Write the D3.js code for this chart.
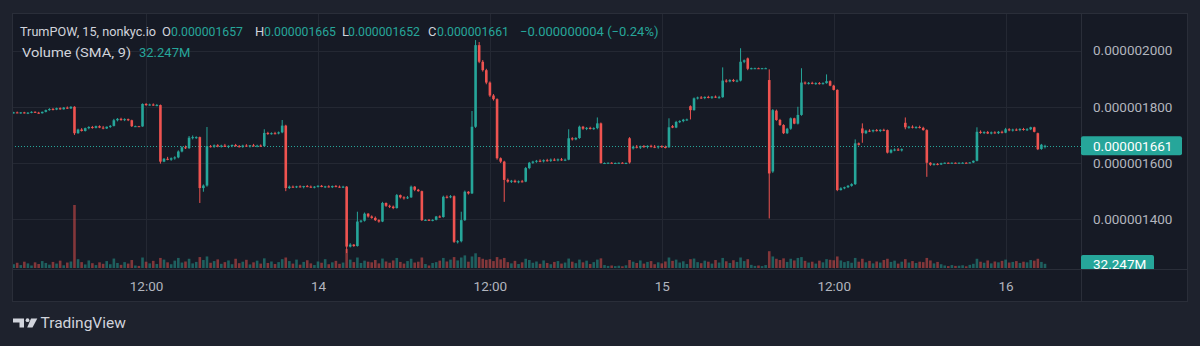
<!DOCTYPE html>
<html>
<head>
<meta charset="utf-8">
<script src="https://cdn.jsdelivr.net/npm/d3@7"></script>
<style>
  html, body { margin: 0; padding: 0; background: #1e222d; }
  svg { display: block; font-family: Roboto, "Noto Sans", sans-serif; }
</style>
</head>
<body>
<svg id="chart" width="1200" height="346"></svg>
<script>
// prices are in units of 0.000000001
const opens = [
  1779,1780,1778,1780,1777,1779,1782,1779,1777,1782,
  1788,1792,1790,1795,1791,1797,1794,1800,1706,1719,
  1714,1724,1728,1725,1731,1726,1723,1729,1732,1752,
  1757,1753,1756,1752,1731,1731,1730,1810,1806,1808,
  1805,1806,1605,1615,1612,1617,1620,1641,1656,1653,
  1690,1692,1692,1511,1520,1660,1658,1663,1659,1662,
  1657,1661,1664,1660,1657,1662,1659,1663,1660,1662,
  1660,1707,1704,1706,1705,1709,1733,1511,1516,1514,
  1517,1515,1518,1516,1513,1516,1519,1515,1517,1514,
  1518,1516,1515,1516,1303,1310,1305,1392,1395,1420,
  1410,1405,1397,1392,1458,1448,1445,1440,1486,1478,
  1475,1478,1516,1505,1500,1397,1398,1396,1398,1410,
  1408,1480,1478,1482,1320,1322,1397,1498,1492,1729,
  2019,1960,1930,1886,1840,1827,1617,1605,1540,1534,
  1537,1532,1535,1534,1582,1601,1605,1608,1606,1610,
  1608,1612,1610,1613,1611,1612,1688,1684,1689,1729,
  1722,1725,1721,1724,1741,1600,1600,1601,1600,1600,
  1601,1600,1688,1652,1658,1655,1660,1657,1661,1658,
  1656,1660,1657,1656,1731,1726,1746,1749,1754,1802,
  1788,1830,1833,1831,1835,1832,1836,1833,1834,1893,
  1890,1895,1891,1893,1960,1972,1935,1937,1937,1936,
  1937,1895,1570,1786,1753,1735,1706,1722,1759,1740,
  1771,1886,1883,1885,1882,1884,1883,1884,1891,1875,
  1860,1504,1510,1514,1519,1525,1670,1723,1706,1715,
  1713,1717,1714,1718,1717,1637,1646,1648,1645,1743,
  1727,1729,1726,1728,1725,1717,1601,1594,1597,1595,
  1599,1601,1600,1601,1600,1601,1601,1600,1602,1608,
  1711,1707,1710,1705,1709,1706,1711,1708,1720,1716,
  1719,1717,1721,1718,1720,1727,1706,1650,1657
];
const highs = [
  1782,1783,1781,1782,1781,1784,1784,1782,1783,1790,
  1795,1796,1797,1798,1799,1801,1802,1802,1722,1724,
  1726,1731,1732,1733,1734,1732,1730,1735,1757,1760,
  1761,1759,1758,1754,1733,1732,1812,1813,1811,1812,
  1810,1808,1618,1622,1620,1624,1645,1660,1662,1696,
  1698,1695,1694,1524,1728,1664,1666,1667,1665,1668,
  1663,1666,1668,1664,1665,1667,1664,1668,1665,1666,
  1720,1711,1709,1711,1712,1753,1736,1520,1520,1519,
  1521,1519,1522,1520,1518,1521,1522,1519,1521,1520,
  1522,1520,1519,1518,1315,1312,1427,1398,1424,1422,
  1414,1410,1400,1462,1460,1452,1449,1490,1488,1482,
  1483,1520,1518,1508,1502,1400,1401,1400,1412,1414,
  1484,1485,1486,1485,1326,1427,1502,1500,1785,2037,
  2030,1966,1935,1890,1845,1830,1620,1608,1545,1540,
  1541,1538,1540,1586,1604,1608,1611,1613,1613,1615,
  1616,1617,1616,1618,1616,1720,1692,1692,1733,1732,
  1728,1729,1727,1762,1744,1602,1602,1603,1602,1602,
  1603,1602,1692,1662,1664,1662,1664,1663,1665,1664,
  1662,1663,1662,1759,1735,1750,1752,1757,1758,1805,
  1833,1836,1838,1837,1839,1838,1840,1839,1940,1898,
  1898,1899,1897,2008,1968,1975,1939,1939,1939,1938,
  1939,1933,1792,1790,1757,1738,1725,1762,1761,1800,
  1937,1890,1888,1889,1887,1888,1887,1915,1894,1878,
  1862,1514,1516,1522,1528,1684,1673,1741,1718,1720,
  1719,1721,1720,1722,1719,1650,1652,1653,1652,1762,
  1732,1734,1731,1733,1729,1720,1603,1600,1600,1601,
  1602,1602,1602,1602,1602,1603,1603,1603,1609,1727,
  1716,1713,1714,1712,1713,1714,1715,1725,1724,1722,
  1723,1724,1725,1724,1729,1729,1708,1668,1665
];
const lows = [
  1776,1777,1775,1776,1774,1777,1778,1775,1776,1780,
  1786,1787,1788,1789,1790,1792,1792,1700,1704,1712,
  1712,1720,1722,1723,1724,1720,1721,1725,1730,1748,
  1750,1749,1749,1728,1729,1729,1729,1803,1804,1803,
  1802,1598,1603,1610,1608,1612,1617,1638,1650,1650,
  1684,1686,1458,1498,1516,1655,1654,1656,1655,1657,
  1653,1656,1658,1655,1654,1658,1655,1658,1656,1657,
  1658,1700,1701,1702,1702,1706,1500,1508,1512,1511,
  1513,1510,1514,1512,1510,1513,1514,1511,1513,1511,
  1514,1512,1511,1280,1300,1302,1303,1388,1392,1406,
  1402,1394,1388,1390,1444,1440,1436,1438,1474,1470,
  1472,1476,1500,1498,1394,1394,1395,1393,1396,1405,
  1406,1474,1475,1316,1314,1318,1394,1488,1490,1725,
  1955,1925,1880,1835,1822,1612,1600,1462,1530,1529,
  1530,1528,1531,1532,1578,1597,1601,1603,1602,1605,
  1604,1607,1606,1608,1607,1610,1680,1681,1686,1718,
  1717,1719,1718,1720,1598,1598,1598,1599,1598,1598,
  1599,1598,1598,1648,1652,1650,1654,1652,1655,1653,
  1651,1654,1652,1654,1724,1724,1742,1745,1750,1755,
  1786,1826,1828,1827,1830,1828,1831,1829,1832,1886,
  1887,1888,1887,1890,1955,1930,1933,1935,1935,1934,
  1935,1403,1565,1750,1732,1703,1703,1718,1738,1737,
  1768,1879,1879,1880,1878,1879,1879,1882,1873,1858,
  1500,1502,1507,1511,1516,1522,1662,1672,1703,1710,
  1709,1712,1710,1713,1634,1634,1642,1643,1641,1720,
  1722,1723,1722,1723,1715,1551,1590,1591,1592,1593,
  1598,1599,1599,1599,1599,1599,1599,1599,1600,1606,
  1704,1703,1703,1702,1704,1703,1705,1706,1713,1712,
  1714,1713,1715,1714,1717,1709,1646,1647,1652
];
const closes = [
  1780,1778,1780,1777,1779,1782,1779,1777,1782,1788,
  1792,1790,1795,1791,1797,1794,1800,1706,1719,1714,
  1724,1728,1725,1731,1726,1723,1729,1732,1752,1757,
  1753,1756,1752,1731,1731,1730,1810,1806,1808,1805,
  1806,1605,1615,1612,1617,1620,1641,1656,1653,1690,
  1692,1692,1511,1520,1660,1658,1663,1659,1662,1657,
  1661,1664,1660,1657,1662,1659,1663,1660,1662,1660,
  1707,1704,1706,1705,1709,1733,1511,1516,1514,1517,
  1515,1518,1516,1513,1516,1519,1515,1517,1514,1518,
  1516,1515,1516,1303,1310,1305,1392,1395,1420,1410,
  1405,1397,1392,1458,1448,1445,1440,1486,1478,1475,
  1478,1516,1505,1500,1397,1398,1396,1398,1410,1408,
  1480,1478,1482,1320,1322,1397,1498,1492,1729,2019,
  1960,1930,1886,1840,1827,1617,1605,1540,1534,1537,
  1532,1535,1534,1582,1601,1605,1608,1606,1610,1608,
  1612,1610,1613,1611,1612,1688,1684,1689,1729,1722,
  1725,1721,1724,1741,1600,1600,1601,1600,1600,1601,
  1600,1600,1602,1658,1655,1660,1657,1661,1658,1656,
  1660,1657,1656,1727,1726,1746,1749,1754,1755,1788,
  1830,1833,1831,1835,1832,1836,1833,1834,1893,1890,
  1895,1891,1893,1960,1965,1935,1937,1937,1936,1937,
  1937,1563,1788,1753,1735,1706,1722,1759,1740,1771,
  1886,1883,1885,1882,1884,1883,1884,1891,1875,1860,
  1504,1510,1514,1519,1525,1670,1665,1706,1715,1713,
  1717,1714,1718,1717,1637,1646,1648,1645,1649,1727,
  1729,1726,1728,1725,1717,1601,1594,1597,1595,1599,
  1601,1600,1601,1600,1601,1601,1600,1602,1608,1711,
  1707,1710,1705,1709,1706,1711,1708,1720,1716,1719,
  1717,1721,1718,1720,1727,1711,1649,1665,1661
];
// volume in millions
const volumes = [
  18,25,14,30,22,12,27,19,33,24,
  16,29,21,35,13,26,31,300,42,28,
  17,36,23,14,27,20,33,18,45,24,
  15,28,21,38,12,10,50,30,22,34,
  19,48,40,27,18,35,48,26,31,44,
  22,29,52,38,55,25,33,41,20,28,
  36,18,44,23,30,39,17,27,35,21,
  46,24,31,19,28,42,50,33,21,40,
  16,29,37,22,14,31,25,42,18,27,
  34,20,26,90,40,28,50,24,35,30,
  27,38,22,45,31,25,36,48,29,21,
  33,44,26,30,50,19,12,24,28,35,
  48,31,40,52,36,50,60,30,55,70,
  52,44,39,42,33,52,41,48,28,22,
  34,19,27,44,38,25,31,20,36,24,
  18,29,33,21,26,45,30,23,40,27,
  35,19,28,40,46,14,10,12,9,11,
  8,13,38,30,24,36,21,29,33,18,
  27,22,31,50,34,40,26,32,19,42,
  45,28,23,35,30,21,38,26,48,32,
  24,37,29,50,33,42,15,10,12,9,
  14,80,55,44,38,46,29,44,36,48,
  52,34,26,30,21,35,27,42,39,37,
  55,36,28,33,25,48,30,44,27,34,
  22,31,26,38,44,29,35,21,30,42,
  26,33,24,30,28,48,36,22,29,18,
  12,9,14,10,11,13,8,15,20,44,
  30,25,36,22,31,27,34,40,26,29,
  33,24,30,27,38,35,44,29,20
];

const firstCandle = new Date(2024, 4, 13, 2, 45);
const priceTicks = [1400, 1600, 1800, 2000];
const timeTicks = [new Date(2024,4,13,12), new Date(2024,4,14), new Date(2024,4,14,12),
                   new Date(2024,4,15), new Date(2024,4,15,12), new Date(2024,4,16)];
const timeLabels = ["12:00", "14", "12:00", "15", "12:00", "16"];
const symbolTitle = "TrumPOW, 15, nonkyc.io";
const lastBar = {o: "0.000001657", h: "0.000001665", l: "0.000001652", c: "0.000001661", chg: "\u22120.000000004 (\u22120.24%)"};
const lastPrice = 1661;
const volumeTitle = "Volume (SMA, 9)";
const volumeSma = "32.247M";

const up = "#26a69a", down = "#ef5350";
const plot = {left: 12, top: 13, right: 1081, bottom: 269};

const svg = d3.select("#chart");

svg.append("rect").attr("width", 1200).attr("height", 346).attr("fill", "#1e222d");
svg.append("rect")
  .attr("x", 12.5).attr("y", 13.5).attr("width", 1175).attr("height", 288)
  .attr("fill", "#161a25").attr("stroke", "#2a2e39");

const times = opens.map((d, i) => d3.timeMinute.offset(firstCandle, 15 * i));

const x = d3.scaleTime()
  .domain([new Date(2024,4,14), new Date(2024,4,16)])
  .range([318, 1005.6]);
const y = d3.scaleLinear().domain([1400, 2000]).range([219.3, 50.5]);
const yVol = d3.scaleLinear().domain([0, 360]).range([268, 192.4]);

svg.append("defs").append("clipPath").attr("id", "plotclip")
  .append("rect")
  .attr("x", plot.left + 1).attr("y", plot.top + 1)
  .attr("width", plot.right - plot.left - 1).attr("height", plot.bottom - plot.top - 1);

// grid
const grid = svg.append("g").attr("clip-path", "url(#plotclip)");
grid.selectAll(".hg").data(priceTicks).enter().append("line")
  .attr("x1", plot.left).attr("x2", plot.right)
  .attr("y1", d => Math.round(y(d)) + 0.5).attr("y2", d => Math.round(y(d)) + 0.5)
  .attr("stroke", "#242833");
grid.selectAll(".vg").data(timeTicks).enter().append("line")
  .attr("y1", plot.top).attr("y2", plot.bottom)
  .attr("x1", d => Math.round(x(d)) + 0.5).attr("x2", d => Math.round(x(d)) + 0.5)
  .attr("stroke", "#242833");

// dividers of the axes
svg.append("line").attr("x1", plot.right + 0.5).attr("x2", plot.right + 0.5)
  .attr("y1", 13).attr("y2", 302).attr("stroke", "#2a2e39");
svg.append("line").attr("x1", 12).attr("x2", 1188)
  .attr("y1", plot.bottom + 0.5).attr("y2", plot.bottom + 0.5).attr("stroke", "#2a2e39");

const bars = d3.range(opens.length).map(i => ({
  t: times[i], o: opens[i], h: highs[i], l: lows[i], c: closes[i], v: volumes[i]
}));

const g = svg.append("g").attr("clip-path", "url(#plotclip)");
const bw = 2.6;

// volume
g.selectAll(".vol").data(bars).enter().append("rect")
  .attr("class", "vol")
  .attr("x", d => x(d.t) - bw / 2)
  .attr("width", bw)
  .attr("y", d => yVol(d.v))
  .attr("height", d => yVol(0) - yVol(d.v))
  .attr("fill", d => d.c >= d.o ? up : down)
  .attr("opacity", 0.5);

// last price dotted line
g.append("line")
  .attr("x1", plot.left).attr("x2", plot.right)
  .attr("y1", Math.round(y(lastPrice)) + 0.5).attr("y2", Math.round(y(lastPrice)) + 0.5)
  .attr("stroke", up).attr("stroke-dasharray", "1,2");

// candles
const candle = g.selectAll(".candle").data(bars).enter().append("g").attr("class", "candle");
candle.append("line")
  .attr("x1", d => x(d.t)).attr("x2", d => x(d.t))
  .attr("y1", d => y(d.h)).attr("y2", d => y(d.l))
  .attr("stroke", d => d.c >= d.o ? up : down).attr("stroke-width", 1);
candle.append("rect")
  .attr("x", d => x(d.t) - bw / 2)
  .attr("width", bw)
  .attr("y", d => y(Math.max(d.o, d.c)))
  .attr("height", d => Math.max(1, Math.abs(y(d.o) - y(d.c))))
  .attr("fill", d => d.c >= d.o ? up : down);

// price axis
const yAxis = d3.axisRight(y).tickValues(priceTicks)
  .tickFormat(d => (d / 1e9).toFixed(9)).tickSize(0).tickPadding(0);
const ya = svg.append("g").attr("transform", "translate(1093,0)").call(yAxis);
ya.select(".domain").remove();
ya.selectAll("text").attr("fill", "#b2b5be").attr("font-size", 13.5)
  .attr("font-family", "Roboto, sans-serif");

// last price label
svg.append("rect").attr("x", 1081).attr("y", y(lastPrice) - 9.5)
  .attr("width", 101).attr("height", 19).attr("rx", 2).attr("fill", up);
svg.append("text").attr("x", 1093).attr("y", y(lastPrice)).attr("dy", "0.35em")
  .attr("fill", "#ffffff").attr("font-size", 13.5).text((lastPrice / 1e9).toFixed(9));

// volume label, cut by the time axis
svg.append("clipPath").attr("id", "axclip").append("rect")
  .attr("x", 1081).attr("y", 13).attr("width", 107).attr("height", plot.bottom - 13);
const vl = svg.append("g").attr("clip-path", "url(#axclip)");
vl.append("rect").attr("x", 1081).attr("y", 255).attr("width", 73).attr("height", 19)
  .attr("rx", 2).attr("fill", up);
vl.append("text").attr("x", 1093).attr("y", 264.5).attr("dy", "0.35em")
  .attr("fill", "#ffffff").attr("font-size", 13.5).text(volumeSma);

// time axis
const xAxis = d3.axisBottom(x).tickValues(timeTicks)
  .tickFormat((d, i) => timeLabels[i]).tickSize(0).tickPadding(0);
const xa = svg.append("g").attr("transform", "translate(0,286)").call(xAxis);
xa.select(".domain").remove();
xa.selectAll("text").attr("fill", "#b2b5be").attr("font-size", 13.5)
  .attr("dy", "0.35em").attr("font-family", "Roboto, sans-serif");

// legend
const leg = svg.append("g").attr("font-size", 13);
leg.append("text").attr("x", 20).attr("y", 36).attr("fill", "#d1d4dc")
  .attr("textLength", 136).attr("lengthAdjust", "spacingAndGlyphs")
  .text(symbolTitle);
const ohlc = [["O", lastBar.o, 162], ["H", lastBar.h, 255], ["L", lastBar.l, 342], ["C", lastBar.c, 428]];
ohlc.forEach(p => {
  leg.append("text").attr("x", p[2]).attr("y", 36).attr("fill", "#d1d4dc").text(p[0]);
  leg.append("text").attr("x", p[2] + (p[0] === "L" ? 6 : 9)).attr("y", 36).attr("fill", up)
    .attr("textLength", 72).attr("lengthAdjust", "spacingAndGlyphs").text(p[1]);
});
leg.append("text").attr("x", 520).attr("y", 36).attr("fill", up).text(lastBar.chg);
leg.append("text").attr("x", 22).attr("y", 57).attr("fill", "#d1d4dc")
  .attr("textLength", 109).attr("lengthAdjust", "spacingAndGlyphs").text(volumeTitle);
leg.append("text").attr("x", 139).attr("y", 57).attr("fill", up).text(volumeSma);

// TradingView mark
const logo = svg.append("g").attr("fill", "#d1d4dc");
logo.append("path").attr("d", "M13 318.5h11v9h-4.5v-5h-6.5z");
logo.append("circle").attr("cx", 27.5).attr("cy", 320.2).attr("r", 1.9);
logo.append("path").attr("d", "M31 318.5h6.3l-4.8 9h-5.3z");
logo.append("text").attr("x", 40.5).attr("y", 328).attr("font-size", 15.5)
  .attr("font-family", "Roboto, sans-serif").attr("fill", "#d1d4dc").text("TradingView");
</script>
</body>
</html>
